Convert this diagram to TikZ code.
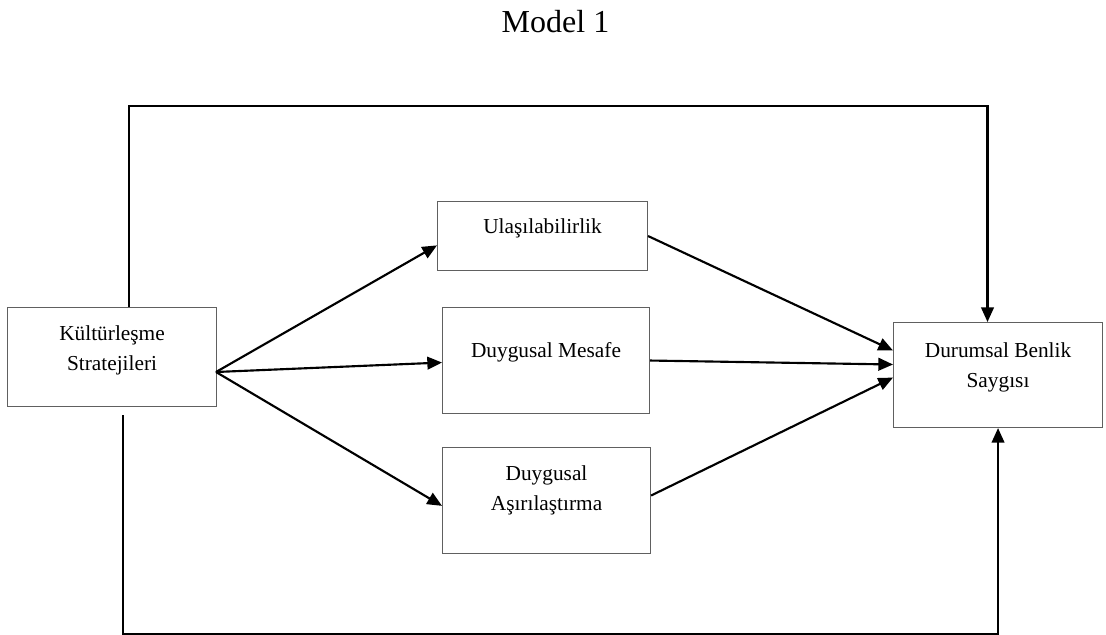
\documentclass[tikz,border=0pt]{standalone}
\usepackage{fontspec}
\setmainfont{Liberation Serif}
\usetikzlibrary{arrows.meta}

\begin{document}
\begin{tikzpicture}[x=0.75pt, y=-0.75pt, >={Triangle[length=11pt,width=9.5pt]}, line width=1.6pt,
  box/.style={draw=gray!75!black, line width=0.8pt, inner sep=0pt, align=center, anchor=north west, font=\fontsize{16}{22.5}\selectfont}]
\useasboundingbox (0,0) rectangle (1106,635);
\node[font=\fontsize{24}{28}\selectfont, anchor=base] (title) at (555.5,33) {Model 1};
\node[box, minimum width=156.75pt, text height=47.25pt, text depth=27pt] (ks) at (7,307) {Kültürleşme\\Stratejileri};
\node[box, minimum width=157.5pt, text height=24pt, text depth=27.75pt] (ul) at (437,201) {Ulaşılabilirlik};
\node[box, minimum width=155.25pt, text height=37.5pt, text depth=42pt] (dm) at (442,307) {Duygusal Mesafe};
\node[box, minimum width=156pt, text height=47.25pt, text depth=32.25pt] (da) at (442,447) {Duygusal\\Aşırılaştırma};
\node[box, minimum width=156.75pt, text height=48.75pt, text depth=30pt] (dbs) at (893,322) {Durumsal Benlik\\Saygısı};
\coordinate (fan) at (216,372);
\path[->]
(fan) edge ([yshift=-7pt]ul.west)
(fan) edge ([yshift=-1.5pt]dm.west)
(fan) edge ([yshift=-4pt]da.west)

(ul.east) edge ([yshift=18.4pt]dbs.west)
(dm.east) edge ([yshift=7.9pt]dbs.west)
([yshift=3.75pt]da.east) edge ([yshift=-1.9pt]dbs.west);
% direct paths
\draw[->] ([xshift=12.4pt]ks.north) -- ++(0,-201) -| ([xshift=-7.9pt]dbs.north);
\draw[->] ([xshift=7.9pt,yshift=-6pt]ks.south) -- ++(0,219) -| (dbs.south);
\end{tikzpicture}
\end{document}
